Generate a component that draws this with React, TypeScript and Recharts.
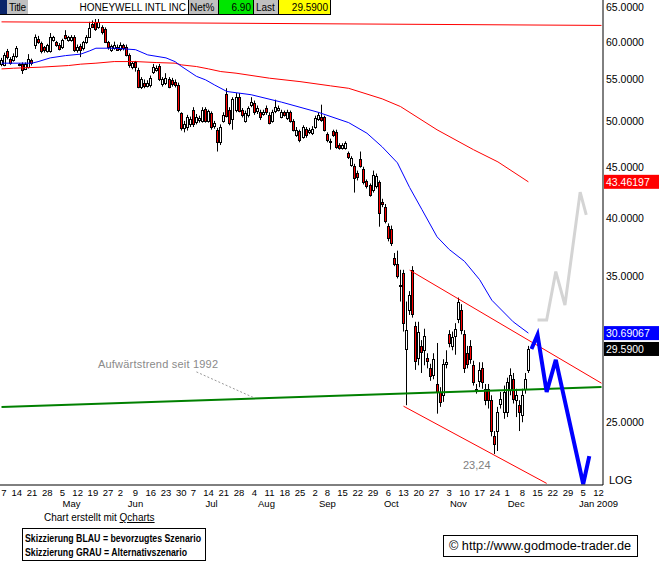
import React from 'react';
import { ComposedChart, Bar, Line, XAxis, YAxis, ReferenceLine } from 'recharts';

// ---- categories: trading-day slots (0 = Apr 7 2008 ... 197 = mid Jan 2009)
const SLOT_COUNT = 198;

// ---- daily OHLC (Honeywell, Apr 7 2008 .. Dec 10 2008)
const opens = [
  56.96, 56.9, 58.75, 57.7, 57.5, 58.0, 57.0, 57.0, 56.4, 56.6,
  57.5, 59.5, 60.4, 59.8, 59.2, 58.7, 58.7, 60.2, 59.9, 59.6,
  59.2, 60.9, 60.2, 60.2, 60.6, 58.9, 59.4, 59.1, 59.9, 60.6,
  62.5, 62.7, 62.0, 62.0, 61.7, 59.9, 58.9, 59.1, 59.3, 59.0,
  59.5, 59.3, 58.2, 56.6, 57.2, 56.2, 54.1, 54.6, 54.2, 54.3,
  56.0, 56.2, 56.7, 54.4, 54.5, 55.0, 54.9, 54.7, 54.3, 50.9,
  49.2, 49.3, 49.6, 51.3, 49.9, 50.1, 50.0, 51.4, 50.0, 50.9,
  49.4, 49.0, 47.6, 50.0, 53.2, 51.3, 50.2, 51.3, 52.8, 51.3,
  50.0, 50.7, 51.9, 52.1, 51.1, 51.0, 50.8, 51.5, 50.7, 50.0,
  51.1, 51.3, 50.5, 51.0, 50.3, 51.0, 50.0, 48.4, 48.8, 48.2,
  49.1, 48.7, 48.6, 49.3, 50.2, 50.5, 50.4, 48.5, 47.6, 48.8,
  48.7, 47.3, 47.0, 47.0, 46.4, 45.2, 45.1, 44.4, 45.8, 44.8,
  43.5, 43.1, 42.7, 43.0, 43.4, 41.5, 41.0, 39.3, 39.0, 36.5,
  36.0, 34.3, 35.2, 29.6, 32.4, 35.5, 31.2, 29.0, 29.8, 29.5,
  29.0, 28.3, 27.9, 27.3, 26.8, 26.6, 28.6, 30.6, 29.8, 30.5,
  31.7, 32.4, 30.6, 29.3, 29.8, 28.5, 26.9, 27.5, 28.3, 27.0,
  27.0, 26.3, 24.2, 24.5, 26.1, 25.6, 25.6, 26.9, 27.6, 26.3,
  26.0, 25.4, 27.0, 28.2,
];
const highs = [
  57.8, 58.5, 59.0, 57.9, 58.4, 59.4, 57.1, 57.2, 57.2, 58.3,
  57.7, 61.0, 60.8, 60.0, 59.4, 59.7, 61.2, 60.8, 60.1, 59.8,
  60.4, 61.6, 60.8, 60.9, 60.9, 59.6, 59.7, 60.1, 60.9, 62.8,
  63.0, 63.2, 63.2, 62.3, 62.0, 60.1, 59.6, 60.0, 59.6, 59.9,
  59.7, 59.6, 58.4, 57.3, 57.4, 56.5, 55.3, 55.0, 54.9, 55.5,
  57.0, 56.8, 57.0, 55.3, 55.8, 55.3, 55.2, 55.0, 54.6, 51.0,
  50.0, 50.7, 50.5, 51.6, 50.8, 50.6, 51.6, 51.6, 51.3, 51.1,
  50.0, 49.2, 49.6, 51.0, 53.9, 51.6, 52.8, 53.3, 53.3, 51.5,
  51.2, 51.7, 52.8, 52.4, 51.8, 51.3, 51.3, 51.8, 51.0, 51.3,
  52.5, 51.8, 51.3, 51.2, 51.3, 51.2, 50.2, 49.3, 49.0, 49.5,
  49.3, 49.2, 49.4, 50.6, 51.0, 51.9, 50.6, 48.7, 48.0, 49.0,
  49.0, 47.5, 47.5, 47.7, 46.6, 46.1, 45.3, 44.6, 46.6, 45.0,
  43.7, 43.3, 44.6, 44.3, 43.6, 41.8, 41.3, 39.5, 39.3, 36.9,
  37.1, 35.5, 35.5, 33.0, 33.8, 35.8, 31.5, 31.5, 30.2, 31.0,
  29.3, 28.6, 29.3, 30.0, 27.1, 28.9, 29.5, 30.9, 30.8, 31.4,
  33.3, 32.8, 30.9, 29.8, 30.2, 28.8, 27.3, 28.7, 28.7, 27.3,
  27.3, 26.6, 24.5, 25.9, 26.8, 27.2, 27.7, 28.3, 28.0, 27.0,
  26.3, 27.0, 28.0, 29.8,
];
const lows = [
  56.7, 56.7, 57.6, 56.9, 57.3, 57.8, 56.7, 55.7, 56.2, 56.4,
  56.8, 59.0, 59.7, 58.4, 58.5, 58.5, 58.5, 60.0, 59.3, 58.8,
  59.0, 60.3, 60.0, 60.0, 58.6, 58.5, 57.9, 58.8, 59.7, 60.5,
  61.9, 61.5, 61.8, 61.0, 59.8, 58.9, 58.6, 58.9, 58.8, 58.7,
  58.8, 58.0, 56.5, 56.3, 56.0, 53.9, 53.8, 53.9, 54.0, 54.0,
  55.7, 56.0, 54.8, 54.1, 54.3, 53.9, 54.1, 54.0, 51.0, 48.9,
  48.7, 48.9, 49.3, 49.3, 49.6, 49.8, 49.8, 49.8, 49.8, 49.0,
  49.1, 46.6, 47.3, 49.8, 50.4, 49.5, 49.0, 51.0, 51.0, 50.4,
  49.8, 50.4, 51.6, 50.7, 50.8, 50.1, 50.6, 50.7, 49.6, 49.8,
  50.9, 51.1, 50.3, 50.5, 50.1, 49.8, 48.8, 48.2, 47.6, 48.0,
  48.1, 48.5, 48.4, 49.1, 50.0, 49.9, 48.8, 47.6, 46.8, 48.2,
  46.9, 46.8, 46.8, 46.8, 45.8, 45.0, 42.4, 43.6, 44.9, 43.2,
  42.8, 42.0, 42.4, 42.8, 39.2, 41.0, 39.5, 37.9, 37.5, 35.8,
  34.8, 33.0, 30.8, 26.0, 32.0, 31.8, 28.2, 28.5, 28.0, 28.5,
  28.3, 27.5, 27.6, 25.5, 25.9, 26.2, 28.3, 29.7, 29.5, 29.2,
  31.4, 30.6, 28.0, 28.3, 28.6, 27.2, 26.7, 27.1, 27.0, 26.0,
  25.8, 24.2, 23.24, 23.4, 25.8, 25.2, 25.3, 26.6, 26.1, 25.3,
  24.5, 25.0, 26.7, 28.0,
];
const closes = [
  57.54, 58.2, 57.85, 57.1, 58.0, 59.1, 56.9, 56.2, 57.0, 57.7,
  57.1, 60.6, 60.0, 58.7, 58.8, 59.5, 60.6, 60.6, 59.6, 59.0,
  60.2, 60.5, 60.6, 60.6, 58.9, 59.3, 58.9, 59.9, 60.6, 61.9,
  62.1, 61.7, 62.7, 61.3, 60.0, 59.2, 59.4, 59.6, 58.9, 59.5,
  59.1, 58.2, 56.9, 57.1, 56.6, 54.1, 55.0, 54.2, 54.6, 55.2,
  56.6, 56.5, 55.0, 55.0, 55.2, 54.1, 54.4, 54.3, 51.3, 49.2,
  49.6, 50.4, 50.2, 49.6, 50.5, 50.3, 51.3, 50.0, 51.1, 49.3,
  49.8, 47.6, 49.3, 50.7, 50.6, 49.8, 52.6, 52.8, 51.2, 50.7,
  50.9, 51.5, 52.2, 51.0, 51.5, 50.5, 51.0, 51.0, 49.8, 51.0,
  51.6, 51.5, 51.0, 50.7, 51.0, 50.0, 49.0, 49.0, 47.9, 49.3,
  48.4, 49.0, 49.1, 50.3, 50.7, 50.1, 49.0, 47.9, 47.7, 48.4,
  47.1, 47.0, 47.3, 47.5, 46.0, 45.9, 43.8, 43.9, 45.1, 43.4,
  43.0, 42.2, 44.2, 44.0, 40.5, 41.3, 39.7, 38.2, 37.8, 36.0,
  35.0, 34.2, 31.4, 30.9, 33.5, 32.1, 28.8, 30.8, 29.4, 30.5,
  28.8, 27.8, 28.9, 26.8, 26.2, 28.6, 28.7, 30.0, 30.4, 31.0,
  33.0, 30.9, 28.3, 28.6, 28.9, 27.4, 27.0, 28.2, 27.4, 26.3,
  26.3, 24.5, 23.8, 25.6, 26.4, 26.8, 27.4, 27.9, 26.4, 26.6,
  25.6, 26.6, 27.6, 29.59,
];

// ---- moving averages read at sample points [slot, value]
const ma200Points: [number, number][] = [
  [0, 56.35], [4, 56.44], [13, 56.58], [22, 56.79], [26, 56.97], [31, 57.1], [37, 57.31],
  [44, 57.31], [51, 57.18], [57, 57.1], [59, 56.88], [64, 56.66], [68, 56.35], [72, 56.01],
  [77, 55.8], [88, 55.16], [98, 54.73], [108, 54.2], [114, 53.89], [125, 52.6], [131, 51.68],
  [143, 48.99], [155, 46.79], [163, 45.5], [173, 43.46],
];
const ma50Points: [number, number][] = [
  [0, 57.1], [10, 57.1], [12, 57.3], [16, 57.8], [21, 58.1], [26, 58.3], [29, 58.75],
  [31, 59.1], [37, 59.1], [44, 58.9], [48, 58.2], [54, 57.8], [57, 57.3], [59, 56.7],
  [64, 55.4], [67, 54.95], [70, 54.3], [74, 53.5], [82, 53.1], [92, 52.2], [104, 51.0],
  [114, 49.8], [120, 48.6], [125, 47.1], [130, 45.4], [134, 42.9], [138, 40.8], [143, 38.3],
  [147, 37.2], [152, 36.2], [157, 34.7], [161, 33.1], [168, 31.5], [173, 30.69],
];
const scenarioBlue: [number, number][] = [
  [174, 29.59], [176, 30.56], [179, 26.8], [182, 28.86], [191, 21.69], [193, 23.13],
];
const scenarioGray: [number, number][] = [
  [176, 31.63], [179, 31.63], [182, 35.35], [185, 32.74], [190, 42.44], [192, 40.28],
];

// ---- drawn trend lines [slot, price]
const topLine: [number, number][] = [[0, 62.79], [197, 62.28]];
const longTrend: [number, number][] = [[0, 25.89], [197, 27.11]];
const channelUpper: [number, number][] = [[134, 35.47], [197, 27.35]];
const channelLower: [number, number][] = [[132, 25.94], [179, 21.72]];
const trendPointer: [number, number][] = [[64, 28.07], [83, 26.44]];

// ---- axis ticks
const weekTickSlots = [0, 5, 10, 15, 20, 25, 30, 35, 39, 44, 49, 54, 59, 63, 68, 73, 78, 83, 88, 93, 98,
  103, 107, 112, 117, 122, 127, 132, 137, 142, 147, 152, 157, 162, 166, 171, 176, 181, 186, 191, 196];
const weekTickLabels = ['7', '14', '21', '28', '5', '12', '19', '27', '2', '9', '16', '23', '30', '7', '14', '21',
  '28', '4', '11', '18', '25', '2', '8', '15', '22', '29', '6', '13', '20', '27', '3', '10', '17', '24', '1', '8',
  '15', '22', '29', '5', '12'];
const monthTickSlots = [23, 44, 69, 87, 107, 128, 150, 169, 196];
const monthTickLabels = ['May', 'Jun', 'Jul', 'Aug', 'Sep', 'Oct', 'Nov', 'Dec', 'Jan 2009'];
const priceTicks = [25, 35, 40, 45, 50, 55, 60, 65];
const markerValues = [43.46197, 30.69067, 29.59];
const markerTexts = ['43.46197', '30.69067', '29.5900'];
const markerColors = ['#ff0000', '#0000ff', '#000000'];

const FONT = '"Liberation Sans", Arial, Helvetica, sans-serif';

const data: any[] = Array.from({ length: SLOT_COUNT }, (_, i) => {
  const row: any = { i };
  if (i < opens.length) {
    row.o = opens[i];
    row.h = highs[i];
    row.l = lows[i];
    row.c = closes[i];
    row.range = [lows[i], highs[i]];
  }
  return row;
});
ma200Points.forEach(([i, v]) => { data[i].ma200 = v; });
ma50Points.forEach(([i, v]) => { data[i].ma50 = v; });
scenarioBlue.forEach(([i, v]) => { data[i].sBlue = v; });
scenarioGray.forEach(([i, v]) => { data[i].sGray = v; });

const seg = (pts: [number, number][]) => pts.map(([x, y]) => ({ x, y }));

const Candle = (props: any) => {
  const { x, width, payload } = props;
  let { y, height } = props;
  if (!payload || payload.o == null || y == null || height == null) return null;
  if (height < 0) { y = y + height; height = -height; }
  const { o, c, h, l } = payload;
  const lh = Math.log(h);
  const ll = Math.log(l);
  const toY = (v: number) => (lh === ll ? y : y + (height * (lh - Math.log(v))) / (lh - ll));
  const cx = Math.round(x + width / 2 - 0.5);
  const yo = toY(o);
  const yc = toY(c);
  const top = Math.round(Math.min(yo, yc)) + 0.5;
  const bot = Math.round(Math.max(yo, yc)) + 0.5;
  const up = c >= o;
  return (
    <g>
      <line x1={cx + 0.5} x2={cx + 0.5} y1={y} y2={y + height} stroke="#000" strokeWidth={1} />
      <rect x={cx - 0.5} y={top} width={2} height={Math.max(bot - top, 1)}
        fill={up ? '#ffffff' : '#ff0000'} stroke="#000" strokeWidth={1} />
    </g>
  );
};

const DayTick = (props: any) => {
  const { x, y, payload } = props;
  const v = payload.value;
  const wi = weekTickSlots.indexOf(v);
  const mi = monthTickSlots.indexOf(v);
  return (
    <g>
      {wi >= 0 && (
        <text x={Math.max(x, 4)} y={y + 11} textAnchor="middle" fontSize={9.5} fontFamily={FONT} fill="#000">
          {weekTickLabels[wi]}
        </text>
      )}
      {mi >= 0 && (
        <text x={x} y={y + 22} textAnchor="middle" fontSize={9.5} fontFamily={FONT} fill="#000">
          {monthTickLabels[mi]}
        </text>
      )}
    </g>
  );
};

const PriceTick = (props: any) => {
  const { x, y, payload } = props;
  const v = payload.value;
  const mi = markerValues.indexOf(v);
  if (mi >= 0) {
    return (
      <g>
        <rect x={x - 1} y={y - 7} width={56} height={14} fill={markerColors[mi]} />
        <text x={x + 1} y={y + 4} fontSize={10.5} fontFamily={FONT} fill="#fff">{markerTexts[mi]}</text>
      </g>
    );
  }
  return (
    <text x={x + 1} y={y + 4} fontSize={10.5} fontFamily={FONT} fill="#000">{v.toFixed(4)}</text>
  );
};

const allXTicks = Array.from(new Set([...weekTickSlots, ...monthTickSlots])).sort((a, b) => a - b);

const Header = () => (
  <g fontFamily={FONT} fontSize={10}>
    <rect x={0} y={0} width={330} height={14} fill="#fff" />
    <rect x={0} y={0} width={7} height={14} fill="#0a246a" />
    <rect x={7} y={0} width={21} height={14} fill="#c0c0c0" />
    <text x={9} y={11} fill="#000" textLength={17}>Title</text>
    <text x={186} y={11} fill="#000" textAnchor="end">HONEYWELL INTL INC</text>
    <rect x={189} y={0} width={29} height={14} fill="#c0c0c0" />
    <text x={190} y={11} fill="#000">Net%</text>
    <rect x={219} y={0} width={34} height={14} fill="#00e600" />
    <text x={251} y={11} fill="#000" textAnchor="end">6.90</text>
    <rect x={254} y={0} width={24} height={14} fill="#c0c0c0" />
    <text x={256} y={11} fill="#000">Last</text>
    <rect x={279} y={0} width={51} height={14} fill="#ffff00" />
    <text x={328} y={11} fill="#000" textAnchor="end">29.5900</text>
    <line x1={0} x2={331} y1={14.5} y2={14.5} stroke="#000" />
    <line x1={188.5} x2={188.5} y1={0} y2={14} stroke="#000" />
    <line x1={218.5} x2={218.5} y1={0} y2={14} stroke="#000" />
    <line x1={253.5} x2={253.5} y1={0} y2={14} stroke="#000" />
    <line x1={278.5} x2={278.5} y1={0} y2={14} stroke="#000" />
    <line x1={330.5} x2={330.5} y1={0} y2={15} stroke="#000" />
  </g>
);

export default function App() {
  return (
    <div style={{ position: 'absolute', left: 0, top: 0, width: 659, height: 563, background: '#fff', overflow: 'hidden' }}>
      <ComposedChart
        width={659}
        height={563}
        data={data}
        margin={{ top: 0, right: 0, bottom: 48, left: 0 }}
        barCategoryGap={0}
        barGap={0}
      >
        <XAxis
          dataKey="i"
          type="category"
          ticks={allXTicks}
          interval={0}
          tick={<DayTick />}
          tickLine={false}
          tickSize={0}
          tickMargin={0}
          axisLine={{ stroke: '#000' }}
          height={30}
        />
        <YAxis
          orientation="right"
          type="number"
          scale="log"
          domain={[21.64, 66.03]}
          allowDataOverflow
          ticks={[...priceTicks, ...markerValues]}
          interval={0}
          tick={<PriceTick />}
          tickLine={false}
          tickSize={0}
          tickMargin={2}
          axisLine={{ stroke: '#000' }}
          width={56}
        />
        <ReferenceLine segment={seg(topLine)} stroke="#ff0000" strokeWidth={1} ifOverflow="visible" />
        <Bar dataKey="range" shape={<Candle />} isAnimationActive={false} />
        <ReferenceLine segment={seg(longTrend)} stroke="#008000" strokeWidth={2} ifOverflow="visible" />
        <ReferenceLine segment={seg(channelUpper)} stroke="#ff0000" strokeWidth={1} ifOverflow="visible" />
        <ReferenceLine segment={seg(channelLower)} stroke="#ff0000" strokeWidth={1} ifOverflow="visible" />
        <ReferenceLine segment={seg(trendPointer)} stroke="#9a9a9a" strokeDasharray="2 2" strokeWidth={1} ifOverflow="visible" />
        <Line dataKey="ma200" stroke="#ff0000" strokeWidth={1} dot={false} activeDot={false} connectNulls isAnimationActive={false} />
        <Line dataKey="ma50" stroke="#0000ff" strokeWidth={1} dot={false} activeDot={false} connectNulls isAnimationActive={false} />
        <Line dataKey="sGray" stroke="#d4d4d4" strokeWidth={3} dot={false} activeDot={false} connectNulls isAnimationActive={false} />
        <Line dataKey="sBlue" stroke="#0000ff" strokeWidth={4} dot={false} activeDot={false} connectNulls isAnimationActive={false} />
      </ComposedChart>
      <svg width={659} height={563} style={{ position: 'absolute', left: 0, top: 0, pointerEvents: 'none' }}>
        <Header />
        <text x={98} y={368} fontFamily={FONT} fontSize={11} fill="#8a8a8a" textLength={120}>Aufwärtstrend seit 1992</text>
        <text x={463} y={469} fontFamily={FONT} fontSize={11} fill="#808080">23,24</text>
        <text x={609} y={484} fontFamily={FONT} fontSize={11} fill="#000">LOG</text>
        <text x={44} y={521} fontFamily={FONT} fontSize={10} fill="#000">
          Chart erstellt mit <tspan textDecoration="underline">Qcharts</tspan>
        </text>
        <rect x={22.5} y={528.5} width={183} height={32} fill="#fff" stroke="#000" />
        <text x={25} y={542} fontFamily={FONT} fontSize={11} fontWeight="bold" fill="#000" textLength={176} lengthAdjust="spacingAndGlyphs">Skizzierung BLAU = bevorzugtes Szenario</text>
        <text x={25} y={556} fontFamily={FONT} fontSize={11} fontWeight="bold" fill="#000" textLength={162} lengthAdjust="spacingAndGlyphs">Skizzierung GRAU = Alternativszenario</text>
        <rect x={443.5} y={535.5} width={194} height={21} fill="#fff" stroke="#000" />
        <text x={449} y={550} fontFamily={FONT} fontSize={12} fill="#000" textLength={182} lengthAdjust="spacingAndGlyphs">© http://www.godmode-trader.de</text>
      </svg>
    </div>
  );
}
